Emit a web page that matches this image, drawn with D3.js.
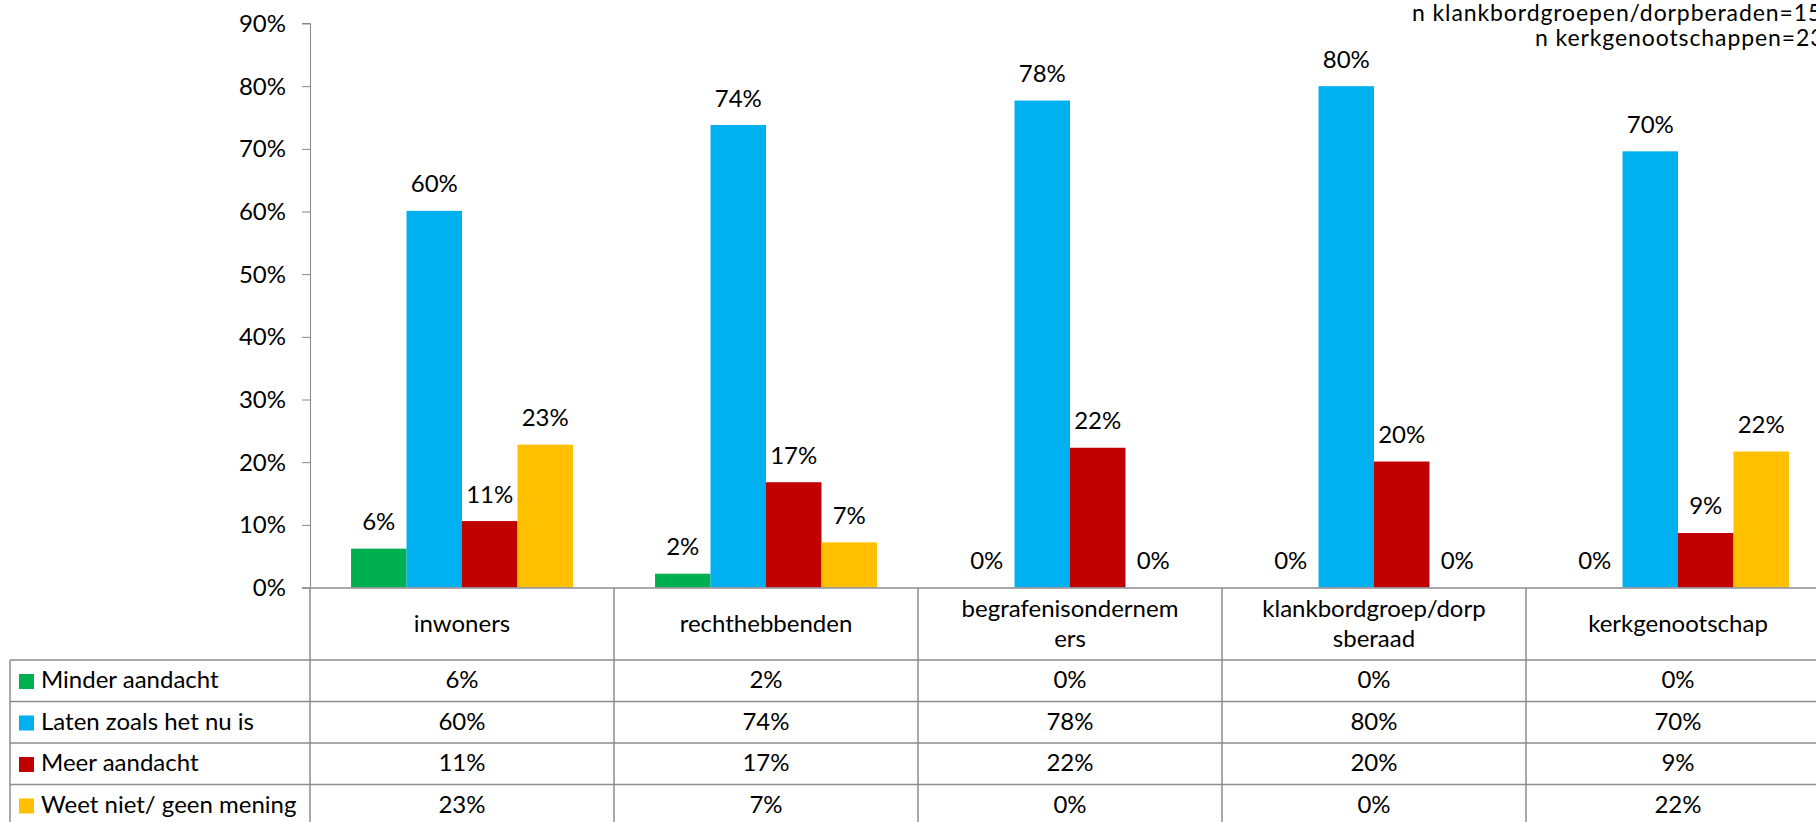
<!DOCTYPE html>
<html><head><meta charset="utf-8">
<script src="https://cdn.jsdelivr.net/npm/d3@7/dist/d3.min.js"></script>
<style>
html,body{margin:0;padding:0;background:#fff;overflow:hidden}
text{font-family:Lato,"Open Sans",sans-serif;fill:#000}
</style></head>
<body>
<svg id="chart" width="1816" height="822"></svg>
<script>
// ---- data ----
const categories = ["inwoners","rechthebbenden","begrafenisondernemers","klankbordgroep/dorpsberaad","kerkgenootschap"];
const categoryLabelLines = [["inwoners"],["rechthebbenden"],["begrafenisondernem","ers"],["klankbordgroep/dorp","sberaad"],["kerkgenootschap"]];
const seriesNames = ["Minder aandacht","Laten zoals het nu is","Meer aandacht","Weet niet/ geen mening"];
const seriesColors = ["#00B050","#00B0F0","#C00000","#FFC000"];
const minderAandacht = [6.2, 2.2, 0, 0, 0];
const latenZoals = [60.1, 73.8, 77.7, 80.0, 69.6];
const meerAandacht = [10.6, 16.8, 22.3, 20.1, 8.7];
const weetNiet = [22.8, 7.2, 0, 0, 21.7];
const yTicks = [0,10,20,30,40,50,60,70,80,90];
const notes = ["n klankbordgroepen/dorpberaden=15","n kerkgenootschappen=23"];

const series = [minderAandacht, latenZoals, meerAandacht, weetNiet];

const svg = d3.select("#chart");
const axisX = 310, colStep = 304;
const yBase = 587.5, yTop = 23.5;
const lineColor = "#8c8c8c";
const fs = 24;

const col = d3.scaleBand().domain(categories).range([axisX, axisX + colStep*categories.length]).padding(0);
const groupW = col.bandwidth()*0.73;
const inner = d3.scaleBand().domain(d3.range(seriesNames.length)).range([0, groupW]).padding(0);
const y = d3.scaleLinear().domain([0,90]).range([yBase, yTop]);
const fmt = v => Math.round(v) + "%";

// y axis
const yAxis = d3.axisLeft(y).tickValues(yTicks).tickSize(8).tickPadding(16).tickFormat(d => d + "%");
const ga = svg.append("g").attr("transform", `translate(${axisX},0)`).call(yAxis);
ga.select(".domain").attr("stroke", "#868686").attr("d", `M-8,${y(90)}H0.5V${yBase}`);
ga.selectAll(".tick line").attr("stroke", "#868686");
ga.selectAll(".tick text").attr("font-size", fs).attr("font-family","Lato").attr("fill","#000").attr("dy","0.33em");

// bars
const gBars = svg.append("g");
series.forEach((vals, si) => {
  categories.forEach((c, ci) => {
    const x0 = col(c) + (col.bandwidth() - groupW)/2 + inner(si);
    const v = vals[ci];
    if (v > 0) {
      gBars.append("rect").attr("x", x0).attr("y", y(v)).attr("width", inner.bandwidth())
        .attr("height", yBase - y(v)).attr("fill", seriesColors[si]);
    }
    gBars.append("text").attr("x", x0 + inner.bandwidth()/2).attr("y", y(v) - 18.5)
      .attr("text-anchor","middle").attr("font-size", fs).text(fmt(v));
  });
});

// table
const rowTop = 660, rowH = 41.5, tableLeft = 10, right = 1830;
const gT = svg.append("g").attr("stroke", lineColor).attr("stroke-width", 1.5);
gT.append("line").attr("x1", axisX-8).attr("x2", right).attr("y1", yBase+0.5).attr("y2", yBase+0.5);
d3.range(seriesNames.length+1).forEach(i => {
  gT.append("line").attr("x1", tableLeft).attr("x2", right).attr("y1", rowTop + i*rowH).attr("y2", rowTop + i*rowH);
});
categories.forEach(c => {
  gT.append("line").attr("x1", col(c)).attr("x2", col(c)).attr("y1", yBase).attr("y2", rowTop + seriesNames.length*rowH);
});
gT.append("line").attr("x1", tableLeft).attr("x2", tableLeft).attr("y1", rowTop).attr("y2", rowTop + seriesNames.length*rowH);

// category labels
categories.forEach((c, ci) => {
  const lines = categoryLabelLines[ci];
  const cx = col(c) + col.bandwidth()/2;
  const base = lines.length === 1 ? 632 : 617;
  lines.forEach((l, li) => {
    svg.append("text").attr("x", cx).attr("y", base + li*30)
      .attr("text-anchor","middle").attr("font-size", fs).text(l);
  });
});

// rows
seriesNames.forEach((name, si) => {
  const top = rowTop + si*rowH;
  const baseY = top + 28;
  svg.append("rect").attr("x", 19).attr("y", top + 14).attr("width", 15).attr("height", 15).attr("fill", seriesColors[si]);
  svg.append("text").attr("x", 41).attr("y", baseY).attr("font-size", fs).text(name);
  categories.forEach((c, ci) => {
    svg.append("text").attr("x", col(c) + col.bandwidth()/2).attr("y", baseY)
      .attr("text-anchor","middle").attr("font-size", fs).text(fmt(series[si][ci]));
  });
});

// notes (right part cut by the frame, as in the original)
svg.append("text").attr("x", 1412).attr("y", 21).attr("font-size", 23).attr("letter-spacing", 0.9).text(notes[0]);
svg.append("text").attr("x", 1535).attr("y", 46).attr("font-size", 23).attr("letter-spacing", 0.9).text(notes[1]);
</script>
</body></html>
